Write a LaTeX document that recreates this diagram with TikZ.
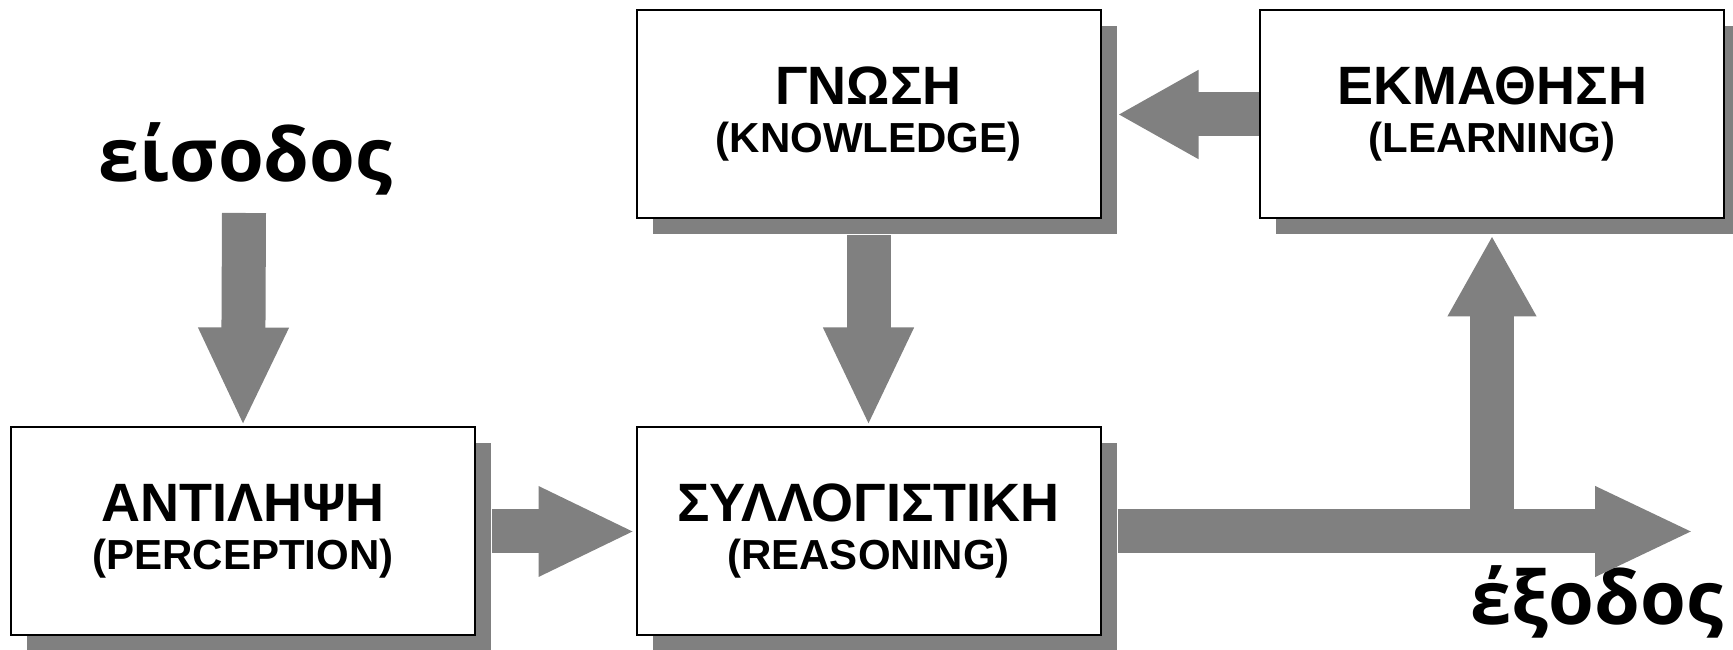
\documentclass[tikz,border=0pt]{standalone}
\usepackage{fontspec}
\setmainfont{Liberation Sans}
\newfontfamily\lblfont{Open Sans}
\usetikzlibrary{arrows.meta,shadows}
\definecolor{arrgray}{HTML}{808080}
\tikzset{
  blk/.style={draw=black, line width=2pt, fill=white, inner sep=0pt,
    minimum width=464pt, minimum height=208pt, align=center,
    font=\bfseries\fontsize{42}{48}\selectfont,
    drop shadow={shadow xshift=16pt, shadow yshift=-16pt, fill=arrgray, opacity=1}},
  fat/.style={draw=arrgray, line width=44pt, -{Triangle[length=#1, width=83pt]}},
  lbl/.style={inner sep=0pt, anchor=base, font=\lblfont\bfseries\fontsize{74}{74}\selectfont},
}
\begin{document}
\begin{tikzpicture}[x=1pt,y=1pt]
\useasboundingbox (0,0) rectangle (1733,650);
\coordinate (inTail) at (244,437);
\coordinate (outTip) at (1694,118.5);
\node[blk] (A) at (243,118.5) {{\fontsize{54}{54}\selectfont ΑΝΤΙΛΗΨΗ}\\(PERCEPTION)};
\node[blk] (R) at (868.5,118.5) {{\fontsize{54}{54}\selectfont ΣΥΛΛΟΓΙΣΤΙΚΗ}\\(REASONING)};
\node[blk] (K) at (868.5,535.5) {{\fontsize{54}{54}\selectfont ΓΝΩΣΗ}\\(KNOWLEDGE)};
\node[blk] (L) at (1492,535.5) {{\fontsize{54}{54}\selectfont ΕΚΜΑΘΗΣΗ}\\(LEARNING)};
\node[lbl] (in) at (245.5,468) {είσοδος};
\node[lbl] (out) at (1597,25) {έξοδος};
\draw[fat=99pt] (inTail) -- (A.north);
\draw[fat=97pt] ([xshift=16pt]A.east) -- (R.west);
\draw[fat=99pt] ([yshift=-16pt]K.south) -- (R.north);
\draw[fat=81pt] (L.west) -- ([xshift=16pt]K.east);
\draw[fat=81pt] (L |- R) -- ([yshift=-16pt]L.south);
\draw[fat=99pt] ([xshift=16pt]R.east) -- (outTip);
\end{tikzpicture}
\end{document}
